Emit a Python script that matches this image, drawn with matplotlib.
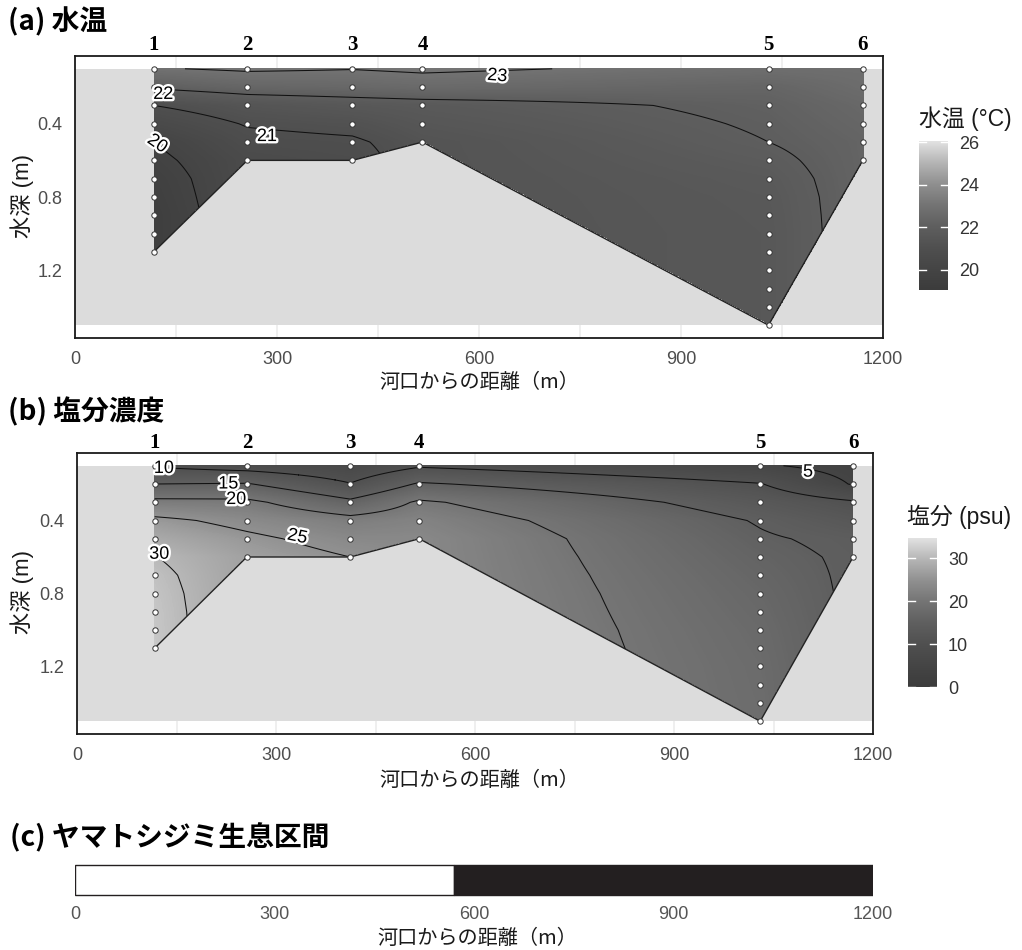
import numpy as np
import matplotlib
matplotlib.use('Agg')
import matplotlib.pyplot as plt
from matplotlib.colors import LinearSegmentedColormap, Normalize
from matplotlib.patches import Rectangle
import matplotlib.patheffects as pe

plt.rcParams['font.family'] = ['Liberation Sans', 'Noto Sans CJK JP', 'DejaVu Sans']

# ---------------- data ----------------
station_names = ['1', '2', '3', '4', '5', '6']
station_x = [117, 256, 412, 516, 1030, 1170]          # distance from river mouth (m)

depth_st1 = [0.1, 0.2, 0.3, 0.4, 0.5, 0.6, 0.7, 0.8, 0.9, 1.0, 1.1]
depth_st2 = [0.1, 0.2, 0.3, 0.4, 0.5, 0.6]
depth_st3 = [0.1, 0.2, 0.3, 0.4, 0.5, 0.6]
depth_st4 = [0.1, 0.2, 0.3, 0.4, 0.5]
depth_st5 = [0.1, 0.2, 0.3, 0.4, 0.5, 0.6, 0.7, 0.8, 0.9, 1.0, 1.1, 1.2, 1.3, 1.4, 1.5]
depth_st6 = [0.1, 0.2, 0.3, 0.4, 0.5, 0.6]

temp_st1 = [22.95, 22.1, 21.0, 20.5, 20.0, 19.8, 19.6, 19.5, 19.4, 19.4, 19.4]
temp_st2 = [23.1, 22.4, 21.4, 21.05, 20.8, 20.6]
temp_st3 = [23.02, 22.5, 21.6, 21.2, 20.9, 20.75]
temp_st4 = [23.12, 22.6, 21.7, 21.5, 21.3]
temp_st5 = [22.8, 22.35, 22.15, 22.07, 22.0, 21.85, 21.72, 21.65, 21.62, 21.6,
            21.6, 21.6, 21.6, 21.6, 21.6]
temp_st6 = [22.8, 22.7, 22.5, 22.4, 22.3, 22.3]

sal_st1 = [9.5, 15.0, 21.2, 26.0, 28.2, 30.1, 31.0, 31.4, 31.6, 31.7, 31.8]
sal_st2 = [8.0, 15.3, 21.0, 23.8, 25.8, 27.0]
sal_st3 = [6.5, 10.2, 16.0, 21.5, 23.5, 25.0]
sal_st4 = [9.5, 15.5, 20.6, 22.5, 23.5]
sal_st5 = [5.5, 10.2, 12.8, 14.7, 15.4, 16.0, 16.5, 16.9, 17.2, 17.5,
           17.7, 17.9, 18.0, 18.1, 18.2]
sal_st6 = [3.5, 4.7, 10.5, 12.5, 14.2, 14.5]

temp_levels = [20, 21, 22, 23]
sal_levels = [5, 10, 15, 20, 25, 30]
temp_ticks = [20, 22, 24, 26]
sal_ticks = [0, 10, 20, 30]
temp_range = (19.05, 26.05)
sal_range = (0.0, 34.7)

# contour label annotations (value, x, depth, rotation)
temp_labels = [('23', 627, 0.14, -5), ('22', 131, 0.24, 0), ('21', 285, 0.47, 0), ('20', 122, 0.51, -35)]
sal_labels = [('10', 131, 0.115, 0), ('15', 228, 0.20, 0), ('20', 240, 0.285, 0),
              ('25', 332, 0.49, -12), ('30', 124, 0.585, 0), ('5', 1102, 0.135, 0)]

# habitat section (c)
habitat_edges = [0, 570, 1200]
habitat_colors = ['white', '#231f20']

x_ticks = [0, 300, 600, 900, 1200]
y_ticks = [0.4, 0.8, 1.2]

depth_lists = [depth_st1, depth_st2, depth_st3, depth_st4, depth_st5, depth_st6]
temp_lists = [temp_st1, temp_st2, temp_st3, temp_st4, temp_st5, temp_st6]
sal_lists = [sal_st1, sal_st2, sal_st3, sal_st4, sal_st5, sal_st6]

# ---------------- helpers ----------------
W, H = 1022, 950
gv = [60, 69, 80, 95, 116, 144, 181, 226]
gt = np.linspace(0, 1, len(gv))
cmap = LinearSegmentedColormap.from_list('greys_custom', [(t, (g / 255,) * 3) for t, g in zip(gt, gv)])


def fig_rect(l, t, r, b):
    return [l / W, 1 - b / H, (r - l) / W, (b - t) / H]


def build_field(xs, dls, vls, xg, dg):
    prof = np.array([np.interp(dg, d, v) for d, v in zip(dls, vls)])
    maxd = np.array([d[-1] for d in dls])
    F = np.full((len(dg), len(xg)), np.nan)
    for j, x in enumerate(xg):
        if x < xs[0] or x > xs[-1]:
            continue
        i = min(max(np.searchsorted(xs, x) - 1, 0), len(xs) - 2)
        f = (x - xs[i]) / (xs[i + 1] - xs[i])
        col = (1 - f) * prof[i] + f * prof[i + 1]
        bottom = (1 - f) * maxd[i] + f * maxd[i + 1]
        F[:, j] = np.where(dg <= bottom + 1e-9, col, np.nan)
    return np.ma.masked_invalid(F)


xg = np.arange(0, 1201, 1.0)
dg = np.arange(0.1, 1.5001, 0.0025)

fig = plt.figure(figsize=(W / 100, H / 100), dpi=100)
fig.patch.set_facecolor('white')

halo = [pe.withStroke(linewidth=3.4, foreground='white')]


def section_panel(rect, vls, levels, labels, vrange, title, ty, ylab_y, xlab_y, cbar_rect, cbar_title, cbar_ticks, ctitle_xy):
    ax = fig.add_axes(rect)
    for xv in range(0, 1201, 150):
        ax.axvline(xv, color='#ebebeb', lw=1.1, zorder=0.5)
    ax.add_patch(Rectangle((0, 0.1), 1200, 1.4, facecolor='#dcdcdc', edgecolor='none', zorder=1))
    F = build_field(np.array(station_x, float), depth_lists, vls, xg, dg)
    norm = Normalize(*vrange)
    ax.imshow(F, extent=[xg[0] - 0.5, xg[-1] + 0.5, 1.5, 0.1], origin='upper', aspect='auto',
              cmap=cmap, norm=norm, interpolation='nearest', zorder=2)
    X, D = np.meshgrid(xg, dg)
    ax.contour(X, D, F, levels=levels, colors='#111111', linewidths=0.75, zorder=3)
    ax.plot(station_x, [d[-1] for d in depth_lists], color='#222222', lw=1.0, zorder=3,
            solid_joinstyle='round')
    for lab, lx, ld, rot in labels:
        ax.text(lx, ld, lab, fontsize=13, ha='center', va='center', rotation=rot,
                color='black', path_effects=halo, zorder=6)
    for sx, dl, name in zip(station_x, depth_lists, station_names):
        ax.scatter([sx] * len(dl), dl, s=15, facecolor='white', edgecolor='#333333',
                   linewidth=0.7, zorder=5, clip_on=False)
        ax.text(sx, 1 + 10.5 / (rect[3] * H), name, transform=ax.get_xaxis_transform(),
                ha='center', va='center', fontsize=15, fontweight='bold',
                family=['Liberation Serif', 'DejaVu Serif'], clip_on=False)
    ax.set_xlim(0, 1200)
    ax.set_ylim(1.57, 0.03)
    ax.set_xticks(x_ticks)
    ax.set_yticks(y_ticks)
    ax.set_yticklabels([f'{v:.1f}' for v in y_ticks])
    ax.tick_params(length=0, labelsize=13, labelcolor='#4d4d4d', pad=9)
    for s in ax.spines.values():
        s.set_color('#1a1a1a')
        s.set_linewidth(1.3)
    fig.text(8 / W, 1 - ty / H, title, fontsize=20, fontweight='bold', ha='left', va='center',
             family=['Noto Sans CJK JP', 'DejaVu Sans'])
    fig.text(22 / W, 1 - ylab_y / H, '水深 (m)', rotation=90, fontsize=16, ha='center', va='center',
             color='#1a1a1a')
    fig.text(479 / W, 1 - xlab_y / H, '河口からの距離（m）', fontsize=14.5, ha='center', va='center',
             color='#1a1a1a', family=['Noto Sans CJK JP', 'DejaVu Sans'])
    # colourbar
    cax = fig.add_axes(cbar_rect)
    grad = np.linspace(vrange[0], vrange[1], 256).reshape(-1, 1)
    cax.imshow(grad, extent=[0, 1, vrange[0], vrange[1]], origin='lower', aspect='auto',
               cmap=cmap, norm=norm)
    cax.set_xlim(0, 1)
    cax.set_ylim(*vrange)
    for v in cbar_ticks:
        cax.plot([0, 0.23], [v, v], color='white', lw=1.0)
        cax.plot([0.77, 1], [v, v], color='white', lw=1.0)
    cax.set_xticks([])
    cax.yaxis.tick_right()
    cax.set_yticks(cbar_ticks)
    cax.set_yticklabels([str(v) for v in cbar_ticks])
    cax.tick_params(length=0, labelsize=13, labelcolor='#333333', pad=8)
    for s in cax.spines.values():
        s.set_visible(False)
    fig.text(ctitle_xy[0] / W, 1 - ctitle_xy[1] / H, cbar_title, fontsize=16.5, ha='left', va='center',
             color='#1a1a1a')
    return ax


section_panel(fig_rect(75, 56, 883, 338), temp_lists, temp_levels, temp_labels, temp_range,
              '(a) 水温', 22, 196, 383, fig_rect(919, 141, 948, 290), '水温 (°C)', temp_ticks, (919, 119))
section_panel(fig_rect(77, 453, 873, 734), sal_lists, sal_levels, sal_labels, sal_range,
              '(b) 塩分濃度', 412, 592, 780, fig_rect(908, 538, 937, 687), '塩分 (psu)', sal_ticks, (907, 517))

# ---------------- (c) habitat ----------------
axc = fig.add_axes(fig_rect(75, 862, 873, 898))
for i in range(len(habitat_colors)):
    axc.barh(0.5, habitat_edges[i + 1] - habitat_edges[i], left=habitat_edges[i], height=30 / 36,
             color=habitat_colors[i], edgecolor='#231f20', linewidth=1.0)
axc.set_xlim(0, 1200)
axc.set_ylim(0, 1)
axc.set_yticks([])
axc.set_xticks(x_ticks)
axc.tick_params(length=0, labelsize=13, labelcolor='#555555', pad=6)
for lab in axc.get_xticklabels():
    lab.set_family(['Liberation Sans Narrow', 'Liberation Sans'])
for s in axc.spines.values():
    s.set_visible(False)
fig.text(10 / W, 1 - 838 / H, '(c) ヤマトシジミ生息区間', fontsize=20, fontweight='bold', ha='left',
         va='center', family=['Noto Sans CJK JP', 'DejaVu Sans'])
fig.text(477 / W, 1 - 938 / H, '河口からの距離（m）', fontsize=14.5, ha='center', va='center',
         color='#1a1a1a', family=['Noto Sans CJK JP', 'DejaVu Sans'])

fig.savefig('out.png', dpi=100, facecolor='white')
